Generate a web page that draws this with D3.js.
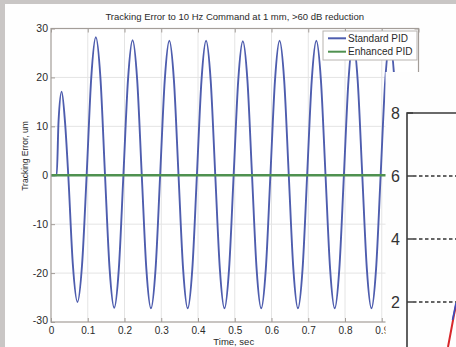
<!DOCTYPE html>
<html><head><meta charset="utf-8">
<script src="https://cdn.jsdelivr.net/npm/d3@7"></script>
<style>html,body{margin:0;padding:0;background:#fff;}svg{display:block;}</style>
</head><body>
<svg id="c" width="456" height="347"></svg>
<script>
// ---- data ----
const chartTitle = "Tracking Error to 10 Hz Command at 1 mm, >60 dB reduction";
const xLabel = "Time, sec";
const yLabel = "Tracking Error, um";
const seriesNames = ["Standard PID", "Enhanced PID"];
const xTicks = [0, 0.1, 0.2, 0.3, 0.4, 0.5, 0.6, 0.7, 0.8, 0.9, 1];
const xTickLabels = ["0", "0.1", "0.2", "0.3", "0.4", "0.5", "0.6", "0.7", "0.8", "0.9", "1"];
const yTicks = [-30, -20, -10, 0, 10, 20, 30];
const yTickLabels = ["-30", "-20", "-10", "0", "10", "20", "30"];
const timeSec = [
  0, 0.0155, 0.0205, 0.029, 0.038, 0.047, 0.0595, 0.072,
  0.0845, 0.097, 0.1095, 0.122, 0.1345, 0.147, 0.1595, 0.172,
  0.1845, 0.197, 0.2095, 0.222, 0.2345, 0.247, 0.2595, 0.272,
  0.2845, 0.297, 0.3095, 0.322, 0.3345, 0.347, 0.3595, 0.372,
  0.3845, 0.397, 0.4095, 0.422, 0.4345, 0.447, 0.4595, 0.472,
  0.4845, 0.497, 0.5095, 0.522, 0.5345, 0.547, 0.5595, 0.572,
  0.5845, 0.597, 0.6095, 0.622, 0.6345, 0.647, 0.6595, 0.672,
  0.6845, 0.697, 0.7095, 0.722, 0.7345, 0.747, 0.7595, 0.772,
  0.7845, 0.797, 0.8095, 0.822, 0.8345, 0.847, 0.8595, 0.872,
  0.8845, 0.897, 0.9095, 0.922, 0.9345, 0.947, 0.9595, 0.972,
  0.9845, 0.997, 1.0
];
const standardPID = [
  0, 0, 11, 17.1, 11, 0, -18.3, -25.9,
  -18.3, 0, 19.9, 28.2, 19.9, 0, -19.2, -27.1,
  -19.2, 0, 19.5, 27.6, 19.5, 0, -19.2, -27.2,
  -19.2, 0, 19.4, 27.5, 19.4, 0, -19.2, -27.2,
  -19.2, 0, 19.4, 27.5, 19.4, 0, -19.2, -27.2,
  -19.2, 0, 19.4, 27.4, 19.4, 0, -19.2, -27.2,
  -19.2, 0, 19.4, 27.5, 19.4, 0, -19.2, -27.2,
  -19.2, 0, 19.4, 27.5, 19.4, 0, -19.2, -27.2,
  -19.2, 0, 19.4, 27.4, 19.4, 0, -19.2, -27.2,
  -19.2, 0, 19.4, 27.4, 19.4, 0, -19.2, -27.2,
  -19.2, 0, 4.7
];
const enhancedTime = [0, 1];
const enhancedPID = [0, 0];
// overlapping second figure (partially visible at right)
const insetTicks = [2, 4, 6, 8];
const insetRedX = [0.41, 0.44, 0.47, 0.49];
const insetRedY = [0.57, 1.08, 1.59, 1.9];
const insetBlueX = [0.455, 0.47, 0.49];
const insetBlueY = [1.43, 1.65, 1.97];

// ---- drawing ----
const svg = d3.select("#c");
const FONT = "'Liberation Sans', Arial, sans-serif";
svg.append("rect").attr("width", 456).attr("height", 347).attr("fill", "#fefefe");
// photo frame
svg.append("rect").attr("x", 0).attr("y", 0).attr("width", 5).attr("height", 347).attr("fill", "#c9c6c5");
svg.append("rect").attr("x", 0).attr("y", 0).attr("width", 456).attr("height", 4).attr("fill", "#c9c6c5");

const L = 51, R = 418.5, T = 28.5, B = 322;
const x = d3.scaleLinear().domain([0, 1]).range([L, R]);
const y = d3.scaleLinear().domain([-30, 30]).range([B, T]);

const main = svg.append("g");
main.append("rect").attr("x", L).attr("y", T).attr("width", R - L).attr("height", B - T).attr("fill", "#fff");
// grid
main.append("g").selectAll("line").data(xTicks.slice(1, -1)).join("line")
  .attr("x1", d => x(d)).attr("x2", d => x(d)).attr("y1", T).attr("y2", B)
  .attr("stroke", "#e4e4e4").attr("stroke-width", 1);
main.append("g").selectAll("line").data(yTicks.slice(1, -1)).join("line")
  .attr("y1", d => y(d)).attr("y2", d => y(d)).attr("x1", L).attr("x2", R)
  .attr("stroke", "#e4e4e4").attr("stroke-width", 1);

// axes
const xAxis = d3.axisBottom(x).tickValues(xTicks).tickFormat((d, i) => xTickLabels[i]).tickSize(-4).tickPadding(4.5);
const gx = main.append("g").attr("transform", `translate(0,${B})`).call(xAxis);
const yAxis = d3.axisLeft(y).tickValues(yTicks).tickFormat((d, i) => yTickLabels[i]).tickSize(-4).tickPadding(3);
const gy = main.append("g").attr("transform", `translate(${L},0)`).call(yAxis);
const gxt = main.append("g").attr("transform", `translate(0,${T})`).call(d3.axisTop(x).tickValues(xTicks).tickSize(-4).tickFormat(""));
const gyr = main.append("g").attr("transform", `translate(${R},0)`).call(d3.axisRight(y).tickValues(yTicks).tickSize(-4).tickFormat(""));
[gx, gy, gxt, gyr].forEach(g => {
  g.select(".domain").remove();
  g.selectAll(".tick line").attr("stroke", "#a39d98");
  g.selectAll("text").attr("font-family", FONT).attr("font-size", 10.5).attr("fill", "#2a2a2a");
});
gx.selectAll("text").attr("font-size", 10);
gy.selectAll(".tick text").filter(d => d === -30).attr("dy", "0.1em");

// clip
svg.append("clipPath").attr("id", "pc").append("rect").attr("x", L).attr("y", T).attr("width", R - L).attr("height", B - T);
const line = d3.line().curve(d3.curveMonotoneX);
main.append("path")
  .attr("d", line(timeSec.map((t, i) => [x(t), y(standardPID[i])])))
  .attr("clip-path", "url(#pc)")
  .attr("fill", "none").attr("stroke", "#4e5dae").attr("stroke-width", 1.9);
main.append("path")
  .attr("d", d3.line()(enhancedTime.map((t, i) => [x(t), y(enhancedPID[i])])))
  .attr("clip-path", "url(#pc)")
  .attr("fill", "none").attr("stroke", "#4f9150").attr("stroke-width", 2.4);

main.append("rect").attr("x", L).attr("y", T).attr("width", R - L).attr("height", B - T)
  .attr("fill", "none").attr("stroke", "#a39d98").attr("stroke-width", 1.2);

// title and labels
svg.append("text").attr("x", (L + R) / 2).attr("y", 20).attr("text-anchor", "middle")
  .attr("font-family", FONT).attr("font-size", 9.5).attr("fill", "#2a2a2a").text(chartTitle);
svg.append("text").attr("x", (L + R) / 2 - 1).attr("y", 345).attr("text-anchor", "middle")
  .attr("font-family", FONT).attr("font-size", 9.5).attr("fill", "#2a2a2a").text(xLabel);
svg.append("text").attr("transform", "translate(27.5,156) rotate(-90)").attr("text-anchor", "middle")
  .attr("font-family", FONT).attr("font-size", 8.5).attr("fill", "#2a2a2a").text(yLabel);

// legend
const lg = svg.append("g");
lg.append("rect").attr("x", 323).attr("y", 31).attr("width", 94).attr("height", 29)
  .attr("fill", "#fff").attr("stroke", "#b8b4b0").attr("stroke-width", 1);
const legColors = ["#4e5dae", "#4f9150"];
seriesNames.forEach((n, i) => {
  const ly = 38.3 + i * 13.4;
  lg.append("line").attr("x1", 328).attr("x2", 346).attr("y1", ly).attr("y2", ly)
    .attr("stroke", legColors[i]).attr("stroke-width", 2);
  lg.append("text").attr("x", 348).attr("y", ly).attr("dy", "0.35em")
    .attr("font-family", FONT).attr("font-size", 10).attr("fill", "#2a2a2a").text(n);
});

// overlapping second figure
const ins = svg.append("g");
ins.append("rect").attr("x", 385.5).attr("y", 72).attr("width", 71).attr("height", 275).attr("fill", "#fefefe");
const sy = d3.scaleLinear().domain([0, 8]).range([365, 113]);
const sx = d3.scaleLinear().domain([0, 1]).range([407, 507]);
svg.append("clipPath").attr("id", "ic").append("rect").attr("x", 407).attr("y", 113).attr("width", 60).attr("height", 240);
ins.selectAll("line.grid").data(insetTicks.filter(d => d < 8)).join("line").attr("class", "grid")
  .attr("x1", 413).attr("x2", 456).attr("y1", d => sy(d)).attr("y2", d => sy(d))
  .attr("stroke", "#333").attr("stroke-width", 1.4).attr("stroke-dasharray", "3.5,2.5");
ins.selectAll("line.tk").data(insetTicks).join("line").attr("class", "tk")
  .attr("x1", 407).attr("x2", 413).attr("y1", d => sy(d)).attr("y2", d => sy(d))
  .attr("stroke", "#333").attr("stroke-width", 1.4);
ins.selectAll("text").data(insetTicks).join("text")
  .attr("x", 400).attr("y", d => sy(d)).attr("dy", "0.36em").attr("text-anchor", "end")
  .attr("font-family", FONT).attr("font-size", 16).attr("fill", "#333").text(d => d);
ins.append("path").attr("d", d3.line()(insetRedX.map((v, i) => [sx(v), sy(insetRedY[i])])))
  .attr("clip-path", "url(#ic)").attr("fill", "none").attr("stroke", "#d8262a").attr("stroke-width", 2);
ins.append("path").attr("d", d3.line()(insetBlueX.map((v, i) => [sx(v), sy(insetBlueY[i])])))
  .attr("clip-path", "url(#ic)").attr("fill", "none").attr("stroke", "#3a4fc0").attr("stroke-width", 1.6);
ins.append("path").attr("d", `M407,347V${sy(8)}H456`)
  .attr("fill", "none").attr("stroke", "#3a3a3a").attr("stroke-width", 1.6);
</script>
</body></html>
